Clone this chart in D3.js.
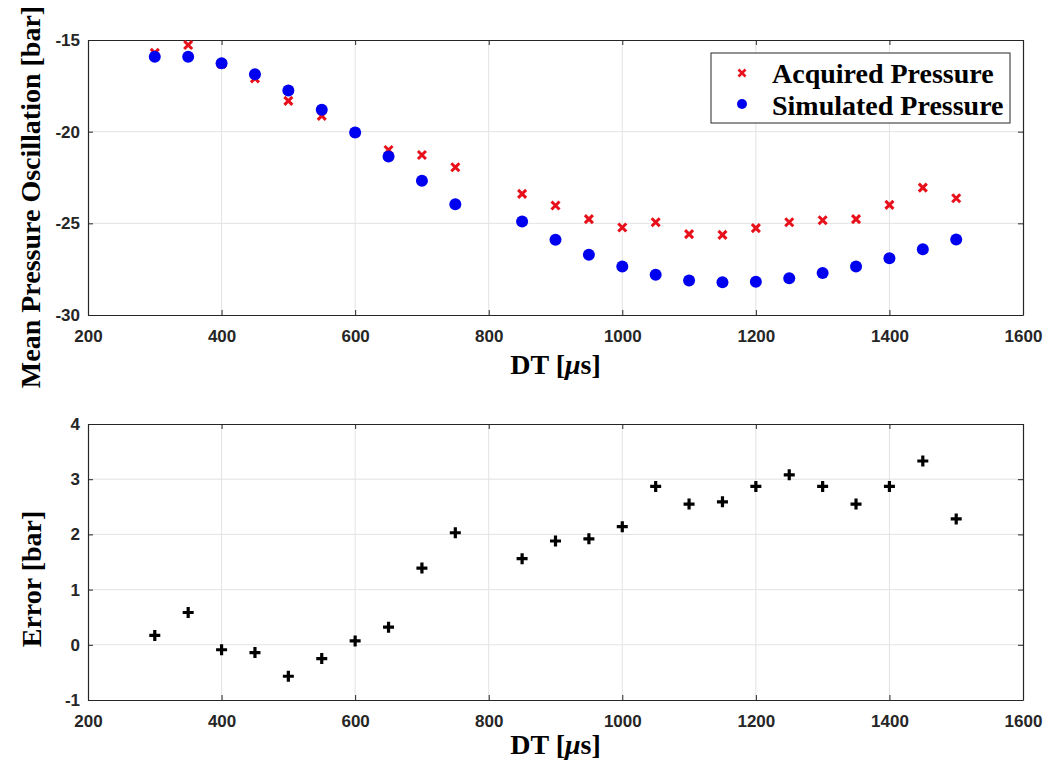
<!DOCTYPE html>
<html lang="en">
<head>
<meta charset="utf-8">
<title>Mean pressure oscillation vs DT</title>
<script src="https://d3js.org/d3.v7.min.js"></script>
<style>
  body { margin: 0; background: #fff; }
  .tick text { font-family: "Liberation Sans", Arial, sans-serif; font-weight: bold; font-size: 17px; fill: #262626; }
  .tick line { stroke: #262626; }
  .domain { stroke: #262626; }
  .lbl { font-family: "Liberation Serif", "Times New Roman", serif; font-weight: bold; font-size: 28px; fill: #000; }
</style>
</head>
<body>
<svg width="1047" height="764"></svg>
<script>

// DT values (800 is missing in the measurement set)
var dt = [300, 350, 400, 450, 500, 550, 600, 650, 700, 750,
          850, 900, 950, 1000, 1050, 1100, 1150, 1200, 1250, 1300, 1350, 1400, 1450, 1500];

var acquired = [-15.7, -15.27, -16.3, -17.09, -18.32, -19.14, -20.05, -21.0, -21.27, -21.94,
                -23.39, -24.03, -24.77, -25.23, -24.94, -25.59, -25.63, -25.26, -24.94, -24.83, -24.77, -23.99, -23.05, -23.63];

var simulated = [-15.91, -15.91, -16.27, -16.87, -17.76, -18.81, -20.05, -21.36, -22.68, -23.96,
                 -24.9, -25.9, -26.72, -27.35, -27.81, -28.12, -28.22, -28.19, -28.0, -27.71, -27.35, -26.9, -26.41, -25.88];

var errorVals = [0.17, 0.585, -0.09, -0.14, -0.57, -0.25, 0.07, 0.32, 1.39, 2.03,
                 1.56, 1.88, 1.92, 2.14, 2.87, 2.55, 2.59, 2.87, 3.08, 2.87, 2.55, 2.87, 3.33, 2.28];

var xTicks = [200, 400, 600, 800, 1000, 1200, 1400, 1600];
var yTicksTop = [-30, -25, -20, -15];
var yTicksBottom = [-1, 0, 1, 2, 3, 4];

var svg = d3.select("svg");

var left = 88, right = 1023;
// plain hyphen minus like the original (d3.format uses the unicode minus)
var fmt = function(d) { return String(d); };

var x = d3.scaleLinear().domain([200, 1600]).range([left, right]);
var yTop = d3.scaleLinear().domain([-30, -15]).range([315, 40]);
var yBot = d3.scaleLinear().domain([-1, 4]).range([700, 424]);

function drawAxes(y, yTicks, top, bottom) {
  var g = svg.append("g");
  // grid
  g.append("g").selectAll("line").data(xTicks.slice(1, -1)).enter().append("line")
      .attr("x1", d => x(d)).attr("x2", d => x(d))
      .attr("y1", top).attr("y2", bottom)
      .attr("stroke", "#e3e3e3").attr("stroke-width", 1);
  g.append("g").selectAll("line").data(yTicks.slice(1, -1)).enter().append("line")
      .attr("x1", left).attr("x2", right)
      .attr("y1", d => y(d)).attr("y2", d => y(d))
      .attr("stroke", "#e3e3e3").attr("stroke-width", 1);

  g.append("g").attr("transform", "translate(0," + bottom + ")")
      .call(d3.axisBottom(x).tickValues(xTicks).tickFormat(fmt).tickSize(-5).tickPadding(15).tickSizeOuter(0));
  g.append("g").attr("transform", "translate(0," + top + ")")
      .call(d3.axisTop(x).tickValues(xTicks).tickSize(-5).tickFormat("").tickSizeOuter(0));
  g.append("g").attr("transform", "translate(" + left + ",0)")
      .call(d3.axisLeft(y).tickValues(yTicks).tickFormat(fmt).tickSize(-5).tickPadding(8).tickSizeOuter(0));
  g.append("g").attr("transform", "translate(" + right + ",0)")
      .call(d3.axisRight(y).tickValues(yTicks).tickSize(-5).tickFormat("").tickSizeOuter(0));
  g.selectAll(".domain").attr("stroke-width", 1.2);
  return g;
}

drawAxes(yTop, yTicksTop, 40, 315);
drawAxes(yBot, yTicksBottom, 424, 700);

var xPath = "M-4,-4L4,4M-4,4L4,-4";
var plusPath = "M-5.5,0L5.5,0M0,-5.5L0,5.5";

// top: acquired (red x) and simulated (blue dots)
svg.append("g").selectAll("path").data(dt).enter().append("path")
    .attr("transform", (d, i) => "translate(" + x(d) + "," + yTop(acquired[i]) + ")")
    .attr("d", xPath).attr("stroke", "#e8101a").attr("stroke-width", 3).attr("fill", "none");

svg.append("g").selectAll("circle").data(dt).enter().append("circle")
    .attr("cx", d => x(d)).attr("cy", (d, i) => yTop(simulated[i]))
    .attr("r", 6).attr("fill", "#0000f0");

// bottom: error (black +)
svg.append("g").selectAll("path").data(dt).enter().append("path")
    .attr("transform", (d, i) => "translate(" + x(d) + "," + yBot(errorVals[i]) + ")")
    .attr("d", plusPath).attr("stroke", "#000").attr("stroke-width", 3.2).attr("fill", "none");

// legend
var lg = svg.append("g");
lg.append("rect").attr("x", 711).attr("y", 53).attr("width", 299).attr("height", 70)
    .attr("fill", "#fff").attr("stroke", "#262626").attr("stroke-width", 1);
lg.append("path").attr("transform", "translate(742,73)").attr("d", "M-3.5,-3.5L3.5,3.5M-3.5,3.5L3.5,-3.5")
    .attr("stroke", "#e8101a").attr("stroke-width", 2.6);
lg.append("circle").attr("cx", 742).attr("cy", 104).attr("r", 5).attr("fill", "#0000f0");
lg.append("text").attr("class", "lbl").attr("x", 772).attr("y", 83).text("Acquired Pressure");
lg.append("text").attr("class", "lbl").attr("x", 772).attr("y", 115).text("Simulated Pressure");

// axis labels
function dtLabel(yPos) {
  var t = svg.append("text").attr("class", "lbl").attr("x", (left + right) / 2).attr("y", yPos)
      .attr("text-anchor", "middle");
  t.append("tspan").text("DT [");
  t.append("tspan").attr("font-style", "italic").text("\u03bc");
  t.append("tspan").text("s]");
}
dtLabel(374);
dtLabel(754);

svg.append("text").attr("class", "lbl").attr("text-anchor", "middle")
    .attr("transform", "translate(40,197) rotate(-90)").text("Mean Pressure Oscillation [bar]");
svg.append("text").attr("class", "lbl").attr("text-anchor", "middle")
    .attr("transform", "translate(41,579) rotate(-90)").text("Error [bar]");

</script>
</body>
</html>
